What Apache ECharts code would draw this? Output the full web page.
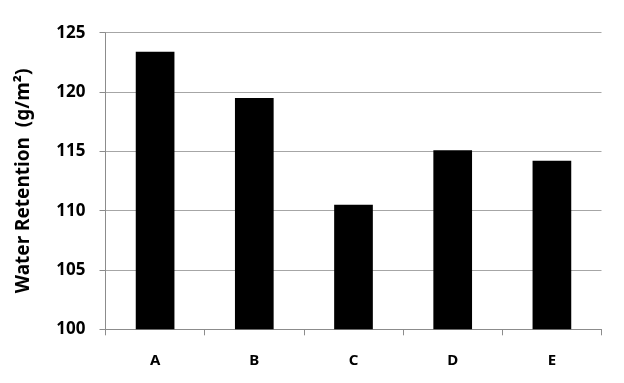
<!DOCTYPE html>
<html>
<head>
<meta charset="utf-8">
<script src="https://cdn.jsdelivr.net/npm/echarts@6/dist/echarts.min.js"></script>
<style>html,body{margin:0;padding:0;background:#fff}#c{width:624px;height:383px}</style>
</head>
<body>
<div id="c"></div>
<script>
const categories = ['A', 'B', 'C', 'D', 'E'];
const values = [123.4, 119.5, 110.5, 115.1, 114.2];
const yTitle = 'Water Retention  (g/m²)';

const chart = echarts.init(document.getElementById('c'), null, {renderer: 'canvas'});
const font = '"Noto Sans", "DejaVu Sans", sans-serif';
chart.setOption({
  animation: false,
  backgroundColor: '#ffffff',
  grid: {left: 105.5, right: 22.5, top: 32.7, bottom: 53.7},
  xAxis: {
    type: 'category',
    data: categories,
    boundaryGap: true,
    axisLine: {show: true, lineStyle: {color: '#8c8c8c', width: 1}},
    axisTick: {show: true, alignWithLabel: false, length: 6, lineStyle: {color: '#8c8c8c'}},
    axisLabel: {color: '#000', fontSize: 15, fontWeight: 'bold', fontFamily: font, margin: 24},
    splitLine: {show: false}
  },
  yAxis: {
    type: 'value',
    min: 100, max: 125, interval: 5,
    name: yTitle,
    nameLocation: 'middle',
    nameGap: 72,
    nameRotate: 90,
    nameTextStyle: {color: '#000', fontSize: 19, fontWeight: 'bold', fontFamily: font},
    axisLine: {show: true, lineStyle: {color: '#8c8c8c', width: 1}},
    axisTick: {show: true, length: 6, lineStyle: {color: '#8c8c8c'}},
    axisLabel: {color: '#000', fontSize: 17, fontWeight: 'bold', fontFamily: font, margin: 20},
    splitLine: {show: true, lineStyle: {color: '#a6a6a6', width: 1}}
  },
  series: [{
    type: 'bar',
    data: values,
    barWidth: '39%',
    itemStyle: {color: '#000000'}
  }]
});
</script>
</body>
</html>
